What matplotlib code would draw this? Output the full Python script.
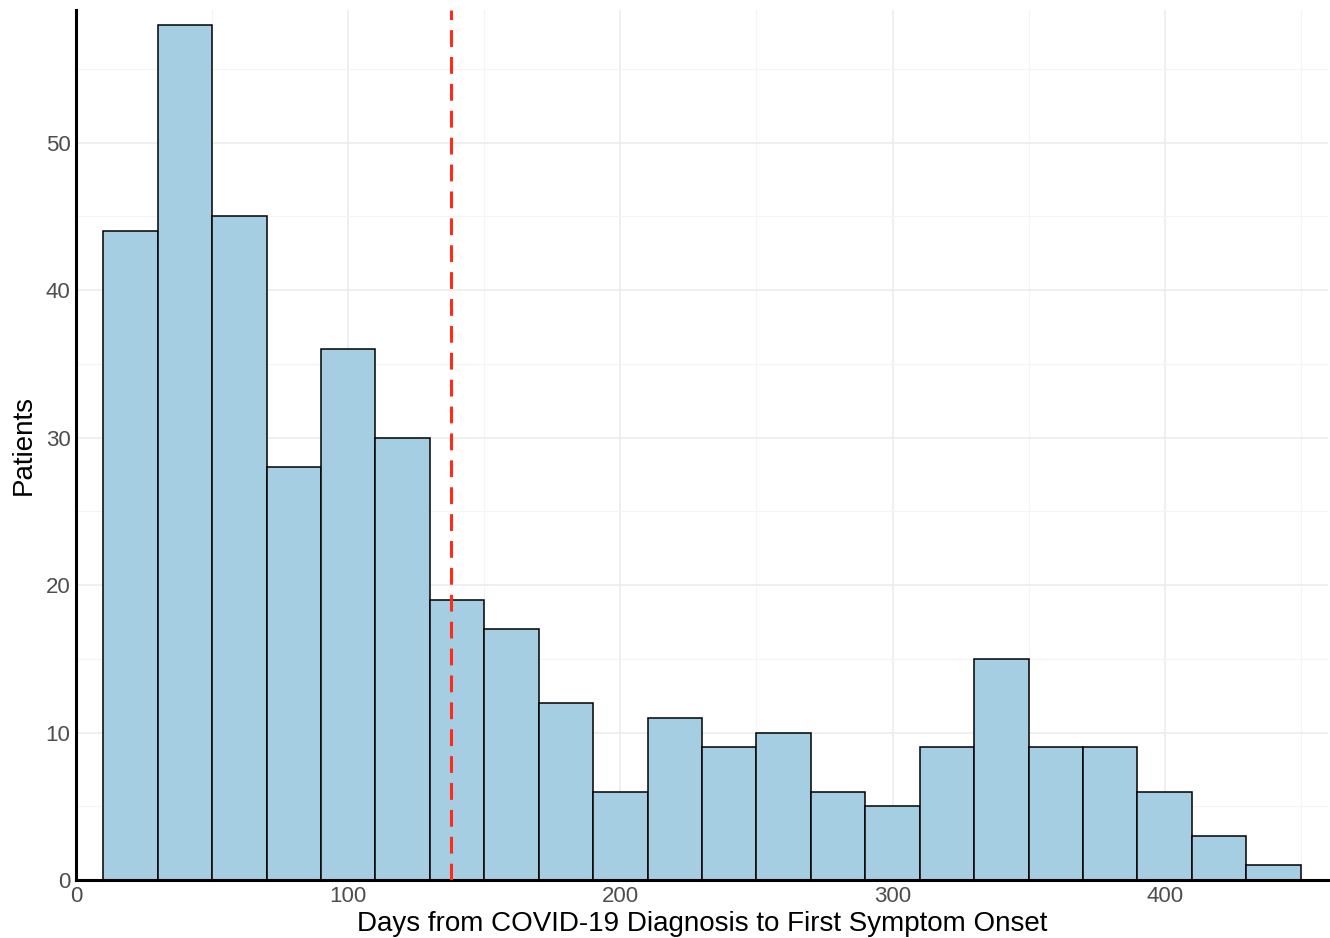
import matplotlib
matplotlib.use("Agg")
import matplotlib.pyplot as plt
import numpy as np

plt.rcParams['font.family'] = ['Liberation Sans', 'DejaVu Sans']

bin_edges = [10, 30, 50, 70, 90, 110, 130, 150, 170, 190, 210, 230, 250,
             270, 290, 310, 330, 350, 370, 390, 410, 430, 450]
counts = [44, 58, 45, 28, 36, 30, 19, 17, 12, 6, 11, 9, 10, 6, 5, 9, 15, 9, 9, 6, 3, 1]
median_day = 137.7
x_ticks = [0, 100, 200, 300, 400]
y_ticks = [0, 10, 20, 30, 40, 50]

fig = plt.figure(figsize=(13.3, 9.38), dpi=100)
ax = fig.add_axes([76/1330, 58/938, (1328-76)/1330, (880-10)/938])

edges = np.array(bin_edges)
ax.bar(edges[:-1], counts, width=np.diff(edges), align='edge',
       color='#A6CEE3', edgecolor='black', linewidth=1.1, zorder=2)
ax.axvline(median_day, color='#FF2A1A', linestyle=(0, (5.5, 3.3)), linewidth=2.2, zorder=3)

ax.set_xlim(0, 460)
ax.set_ylim(0, 59)
ax.set_xticks(x_ticks)
ax.set_yticks(y_ticks)
ax.set_xticks(np.arange(50, 460, 100), minor=True)
ax.set_yticks(np.arange(5, 60, 10), minor=True)
ax.grid(True, which='major', color='#EBEBEB', linewidth=1.1, zorder=0)
ax.grid(True, which='minor', color='#F4F4F4', linewidth=0.8, zorder=0)
ax.set_axisbelow(True)

for s in ['top', 'right']:
    ax.spines[s].set_visible(False)
for s in ['left', 'bottom']:
    ax.spines[s].set_linewidth(2.2)
    ax.spines[s].set_color('black')

ax.tick_params(which='both', length=0, labelsize=16, labelcolor='#4D4D4D', pad=4)
ax.set_xlabel('Days from COVID-19 Diagnosis to First Symptom Onset', fontsize=20, labelpad=3)
ax.set_ylabel('Patients', fontsize=20, labelpad=6)

fig.savefig('out.png', dpi=100)
